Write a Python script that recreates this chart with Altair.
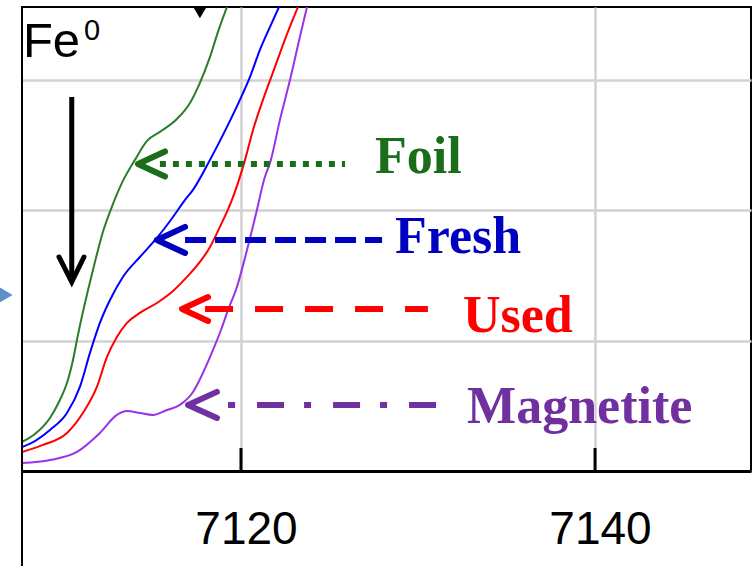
import altair as alt
import pandas as pd

# ---- XANES curves: energy (eV) and normalized absorption ----
foil_x = [7107.63, 7108.36, 7109.21, 7109.77, 7110.17, 7110.51, 7110.79, 7111.07, 7111.36,
          7111.75, 7112.20, 7112.77, 7113.33, 7114.01, 7114.69, 7115.42, 7116.38, 7117.12,
          7117.68, 7118.25, 7118.70, 7119.21]
foil_y = [0.223, 0.284, 0.407, 0.545, 0.675, 0.852, 1.044, 1.220, 1.389,
          1.604, 1.834, 2.049, 2.226, 2.387, 2.533, 2.602, 2.701, 2.824,
          2.978, 3.177, 3.369, 3.561]

fresh_x = [7107.63, 7108.36, 7109.21, 7110.17, 7110.90, 7111.47, 7112.03, 7112.60, 7113.33,
           7114.29, 7115.25, 7116.16, 7116.84, 7117.29, 7118.25, 7119.21, 7119.94, 7120.51,
           7121.07, 7121.64, 7122.20]
fresh_y = [0.184, 0.230, 0.315, 0.445, 0.645, 0.906, 1.136, 1.312, 1.489,
           1.642, 1.788, 1.949, 2.080, 2.157, 2.387, 2.640, 2.847, 3.024,
           3.231, 3.408, 3.576]

used_x = [7107.63, 7108.81, 7110.17, 7111.07, 7111.86, 7112.43, 7112.99, 7113.56, 7114.29,
          7115.25, 7116.16, 7116.95, 7117.68, 7118.25, 7118.81, 7119.49, 7120.23, 7120.68,
          7121.24, 7121.86, 7122.54, 7123.22]
used_y = [0.146, 0.200, 0.292, 0.445, 0.645, 0.875, 1.028, 1.136, 1.213,
          1.289, 1.381, 1.489, 1.604, 1.719, 1.873, 2.080, 2.387, 2.617,
          2.847, 3.078, 3.331, 3.561]

magnetite_x = [7107.63, 7109.21, 7110.73, 7112.03, 7112.99, 7113.56, 7114.29, 7115.03, 7115.82,
               7116.55, 7117.29, 7117.85, 7118.42, 7118.87, 7119.27, 7119.77, 7120.34, 7120.90,
               7121.30, 7121.69, 7122.20, 7122.77, 7123.33, 7123.73]
magnetite_y = [0.061, 0.084, 0.146, 0.292, 0.430, 0.460, 0.445, 0.430, 0.468,
               0.507, 0.606, 0.752, 0.929, 1.082, 1.236, 1.412, 1.696, 2.003,
               2.233, 2.387, 2.694, 3.001, 3.331, 3.561]

samples = ["Foil", "Fresh", "Used", "Magnetite"]

# ---- axis ticks ----
x_ticks = [7120, 7140]
y_grid = [0, 1, 2, 3]

# ---- annotations (data coordinates) ----
label_x = [7127.57, 7128.70, 7132.54, 7132.77]
label_y = [2.287, 1.673, 1.067, 0.368]
arrow_y = [2.356, 1.773, 1.243, 0.507]
arrow_tip_x = [7114.18, 7115.25, 7116.67, 7117.01]
arrow_arm_x = [7115.71, 7116.84, 7118.14, 7118.64]
arrow_half = [0.096, 0.100, 0.092, 0.100]
line_start_x = [7115.42, 7116.84, 7117.97, 7119.27]
line_end_x = [7125.88, 7127.97, 7130.56, 7131.07]

fe_text = ["Fe", "0"]
fe_x = [7107.68, 7111.13]
fe_y = [3.177, 3.308]

down_arrow_x = [7110.44]
down_arrow_top = [2.870]
down_arrow_tip = [1.450]
down_arrow_arm_x = [7109.72, 7111.13]
down_arrow_arm_y = [1.642]

marker_top_x = [7117.68]
marker_top_y = [3.515]
marker_left_x = [7106.60]
marker_left_y = [1.351]

# ---- tables ----
curve_rows = []
for name, xs, ys in [("Foil", foil_x, foil_y), ("Fresh", fresh_x, fresh_y),
                     ("Used", used_x, used_y), ("Magnetite", magnetite_x, magnetite_y)]:
    for i, (xv, yv) in enumerate(zip(xs, ys)):
        curve_rows.append({"sample": name, "i": i, "E": xv, "mu": yv})
curves = pd.DataFrame(curve_rows)

notes = pd.DataFrame({"sample": samples, "lx": label_x, "ly": label_y, "ay": arrow_y,
                      "x1": line_start_x, "x2": line_end_x})

chev_rows = []
for s, tx, ax, ay, h in zip(samples, arrow_tip_x, arrow_arm_x, arrow_y, arrow_half):
    chev_rows += [{"sample": s, "o": 0, "x": ax, "y": ay + h},
                  {"sample": s, "o": 1, "x": tx, "y": ay},
                  {"sample": s, "o": 2, "x": ax, "y": ay - h}]
chevrons = pd.DataFrame(chev_rows)

W, H = 729, 464
xscale = alt.Scale(domain=[7107.63, 7148.81], nice=False, zero=False)
yscale = alt.Scale(domain=[0, 3.56], nice=False, zero=False)

curve_colors = ["#2a7d2a", "#0000ff", "#ff0000", "#9a32e8"]
note_colors = ["#1a6e1a", "#0000c0", "#ff0000", "#7030a0"]
dashes = [[6, 7], [21, 9], [28, 22], [7, 22, 27, 20]]

base_x = alt.X("E:Q", scale=xscale,
               axis=alt.Axis(values=x_ticks, title=None, format="d", ticks=False, tickSize=0,
                             labelFontSize=46, labelFont="Liberation Sans", labelColor="black",
                             labelPadding=36, labelOffset=5,
                             domainColor="black", domainWidth=3,
                             grid=True, gridColor="#d2d2d2", gridWidth=2.5))
base_y = alt.Y("mu:Q", scale=yscale,
               axis=alt.Axis(values=y_grid, title=None, labels=False, ticks=False, domain=False,
                             grid=True, gridColor="#d2d2d2", gridWidth=2.5))

curve_layer = alt.Chart(curves).mark_line(strokeWidth=2, interpolate="monotone", clip=True).encode(
    x=base_x, y=base_y,
    color=alt.Color("sample:N", scale=alt.Scale(domain=samples, range=curve_colors), legend=None),
    order="i:Q",
)

tick_layer = alt.Chart(pd.DataFrame({"E": x_ticks})).mark_rule(color="black", strokeWidth=3).encode(
    x=alt.X("E:Q", scale=xscale), y=alt.value(H - 23), y2=alt.value(H)
)

note_color = alt.Color("sample:N", scale=alt.Scale(domain=samples, range=note_colors), legend=None)

dash_layer = alt.Chart(notes).mark_rule(strokeWidth=6).encode(
    x=alt.X("x1:Q", scale=xscale), x2="x2:Q",
    y=alt.Y("ay:Q", scale=yscale),
    color=note_color,
    strokeDash=alt.StrokeDash("sample:N", scale=alt.Scale(domain=samples, range=dashes), legend=None),
)

chev_layer = alt.Chart(chevrons).mark_line(strokeWidth=6, strokeCap="round", strokeJoin="round").encode(
    x=alt.X("x:Q", scale=xscale), y=alt.Y("y:Q", scale=yscale),
    color=note_color, order="o:Q",
)

text_layer = alt.Chart(notes).mark_text(align="left", baseline="alphabetic", font="Liberation Serif",
                                        fontWeight="bold", fontSize=52).encode(
    x=alt.X("lx:Q", scale=xscale), y=alt.Y("ly:Q", scale=yscale),
    text="sample:N", color=note_color,
)

fe_df = pd.DataFrame({"t": fe_text, "x": fe_x, "y": fe_y})
fe_main = alt.Chart(fe_df.iloc[[0]]).mark_text(align="left", baseline="alphabetic",
                                               font="Liberation Sans", fontSize=49, color="black").encode(
    x=alt.X("x:Q", scale=xscale), y=alt.Y("y:Q", scale=yscale), text="t:N")
fe_sup = alt.Chart(fe_df.iloc[[1]]).mark_text(align="left", baseline="alphabetic",
                                              font="Liberation Sans", fontSize=29, color="black").encode(
    x=alt.X("x:Q", scale=xscale), y=alt.Y("y:Q", scale=yscale), text="t:N")

down_line = alt.Chart(pd.DataFrame({"x": down_arrow_x, "y1": down_arrow_top, "y2": down_arrow_tip})).mark_rule(
    color="black", strokeWidth=5).encode(
    x=alt.X("x:Q", scale=xscale), y=alt.Y("y1:Q", scale=yscale), y2="y2:Q")
down_head = alt.Chart(pd.DataFrame({
    "o": [0, 1, 2],
    "x": [down_arrow_arm_x[0], down_arrow_x[0], down_arrow_arm_x[1]],
    "y": [down_arrow_arm_y[0], down_arrow_tip[0], down_arrow_arm_y[0]]})).mark_line(
    color="black", strokeWidth=5, strokeCap="round", strokeJoin="miter").encode(
    x=alt.X("x:Q", scale=xscale), y=alt.Y("y:Q", scale=yscale), order="o:Q")

top_marker = alt.Chart(pd.DataFrame({"x": marker_top_x, "y": marker_top_y})).mark_point(
    shape="triangle-down", filled=True, color="black", size=160, opacity=1, clip=True).encode(
    x=alt.X("x:Q", scale=xscale), y=alt.Y("y:Q", scale=yscale))
left_marker = alt.Chart(pd.DataFrame({"x": marker_left_x, "y": marker_left_y})).mark_point(
    shape="triangle-right", filled=True, color="#5b8fc9", size=420, opacity=1).encode(
    x=alt.X("x:Q", scale=xscale), y=alt.Y("y:Q", scale=yscale))

frame_ext = alt.Chart(pd.DataFrame({"a": [0]})).mark_rule(color="black", strokeWidth=2).encode(
    x=alt.value(0), y=alt.value(0), y2=alt.value(H + 95))

chart = alt.layer(
    curve_layer, tick_layer, dash_layer, chev_layer, text_layer, fe_main, fe_sup,
    down_line, down_head, top_marker, left_marker, frame_ext
).resolve_scale(color="independent", strokeDash="independent").properties(
    width=W, height=H,
    autosize=alt.AutoSizeParams(type="none"),
    padding={"left": 22, "top": 7, "right": 1, "bottom": 95},
    background="white",
).configure_view(stroke="black", strokeWidth=2)

chart.save("out.html", embed_options={"renderer": "svg", "actions": False})
